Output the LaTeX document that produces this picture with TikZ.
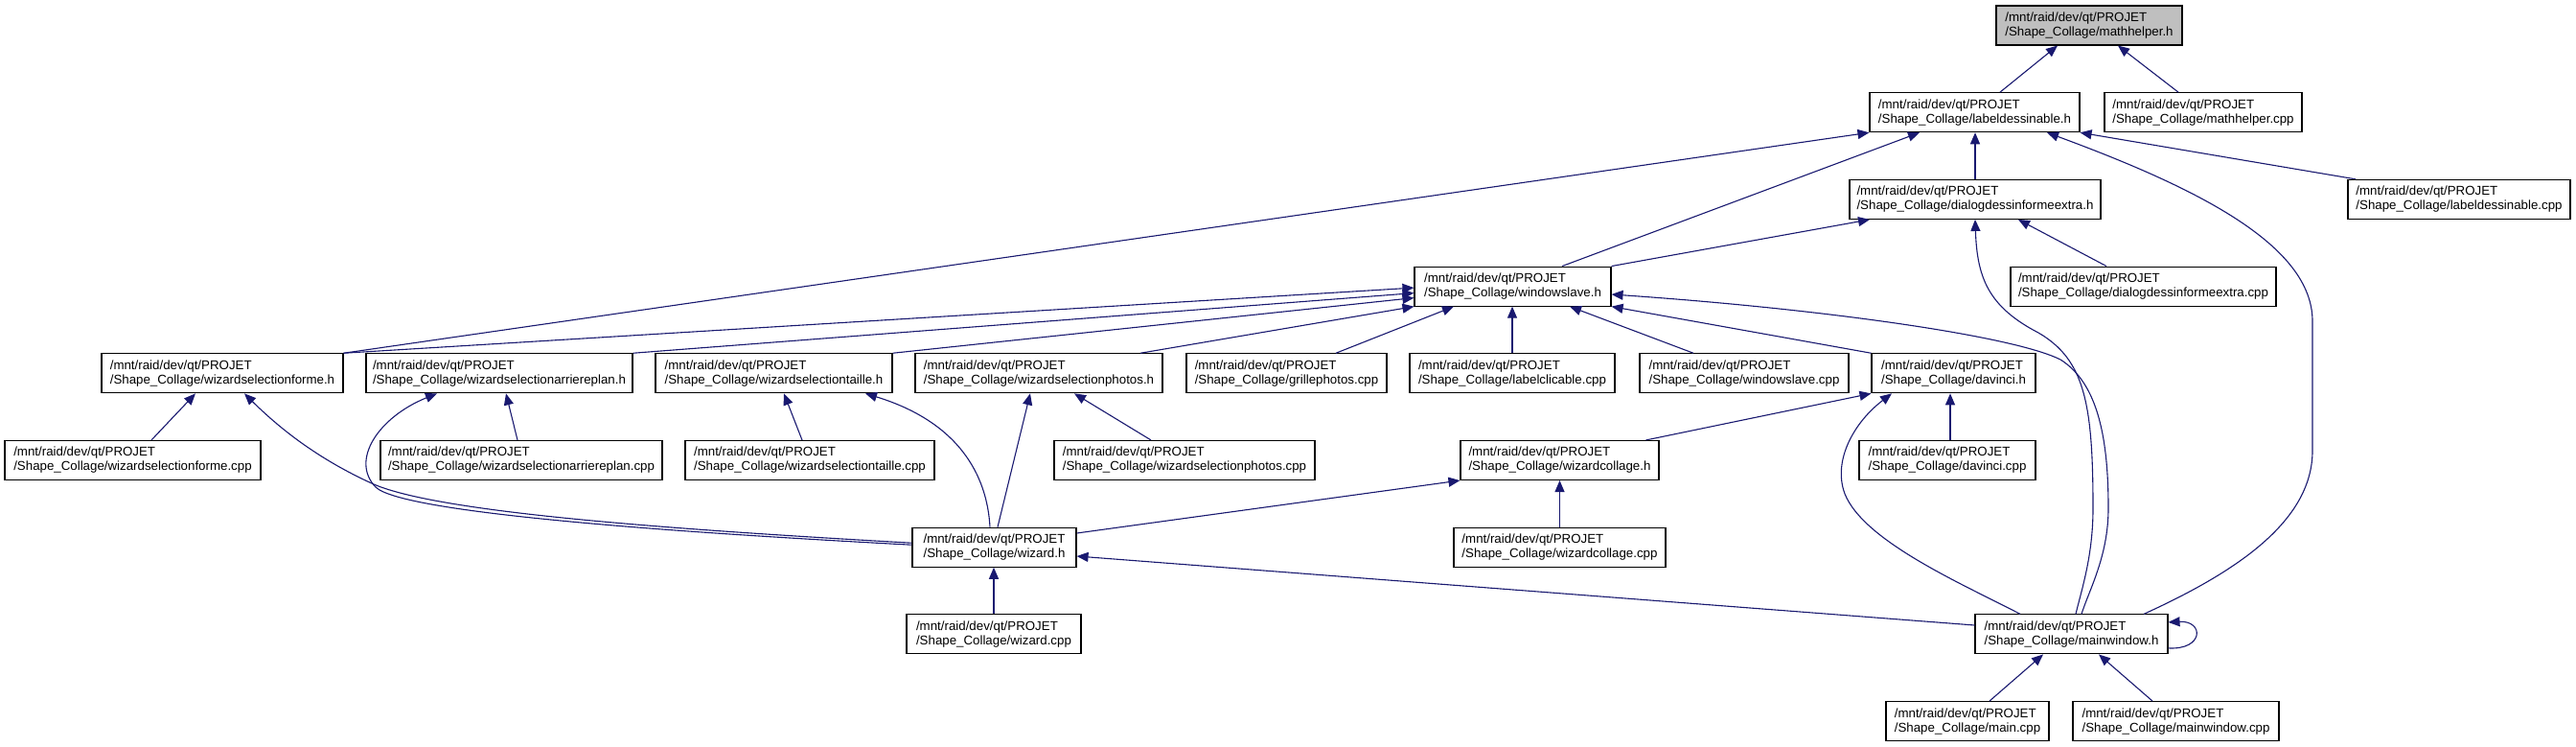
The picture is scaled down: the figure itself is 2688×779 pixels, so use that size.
\documentclass[tikz,border=0pt]{standalone}
\usepackage{fontspec}
\setmainfont{Liberation Sans}
\usetikzlibrary{arrows.meta}
\definecolor{edgecol}{HTML}{191970}
\definecolor{hilite}{HTML}{BFBFBF}
\newcommand{\nfont}{\fontsize{13.3}{15}\selectfont}
\tikzset{
  box/.style={draw=black, line width=1.1pt, fill=white, minimum height=41pt, inner sep=0pt, align=left, font=\nfont},
  edge/.style={draw=edgecol, line width=1.1pt, -{Triangle[length=12pt,width=10pt]}},
}
\begin{document}
\begin{tikzpicture}[x=1pt,y=-1pt]
\useasboundingbox (0,0) rectangle (2688,779);
\fill[white] (0,0) rectangle (2688,779);
% row 0
\node[box, fill=hilite, minimum width=194pt] (mh) at (2180,26.5) {/mnt/raid/dev/qt/PROJET\\/Shape\_Collage/mathhelper.h};
% row 1
\node[box, minimum width=219pt] (ld) at (2060.5,117.2) {/mnt/raid/dev/qt/PROJET\\/Shape\_Collage/labeldessinable.h};
\node[box, minimum width=206pt] (mhc) at (2299,117.2) {/mnt/raid/dev/qt/PROJET\\/Shape\_Collage/mathhelper.cpp};
% row 2
\node[box, minimum width=262pt] (dd) at (2061,207.9) {/mnt/raid/dev/qt/PROJET\\/Shape\_Collage/dialogdessinformeextra.h};
\node[box, minimum width=232pt] (ldc) at (2566,207.9) {/mnt/raid/dev/qt/PROJET\\/Shape\_Collage/labeldessinable.cpp};
% row 3
\node[box, minimum width=205pt] (ws) at (1578.5,298.6) {/mnt/raid/dev/qt/PROJET\\/Shape\_Collage/windowslave.h};
\node[box, minimum width=277pt] (ddc) at (2236.5,298.6) {/mnt/raid/dev/qt/PROJET\\/Shape\_Collage/dialogdessinformeextra.cpp};
% row 4
\node[box, minimum width=252pt] (wsf) at (232,389.3) {/mnt/raid/dev/qt/PROJET\\/Shape\_Collage/wizardselectionforme.h};
\node[box, minimum width=278pt] (wsa) at (521,389.3) {/mnt/raid/dev/qt/PROJET\\/Shape\_Collage/wizardselectionarriereplan.h};
\node[box, minimum width=247pt] (wst) at (807.5,389.3) {/mnt/raid/dev/qt/PROJET\\/Shape\_Collage/wizardselectiontaille.h};
\node[box, minimum width=258pt] (wsp) at (1084,389.3) {/mnt/raid/dev/qt/PROJET\\/Shape\_Collage/wizardselectionphotos.h};
\node[box, minimum width=209pt] (gp) at (1342.5,389.3) {/mnt/raid/dev/qt/PROJET\\/Shape\_Collage/grillephotos.cpp};
\node[box, minimum width=214pt] (lc) at (1578,389.3) {/mnt/raid/dev/qt/PROJET\\/Shape\_Collage/labelclicable.cpp};
\node[box, minimum width=218pt] (wsc) at (1820,389.3) {/mnt/raid/dev/qt/PROJET\\/Shape\_Collage/windowslave.cpp};
\node[box, minimum width=171pt] (dv) at (2038.5,389.3) {/mnt/raid/dev/qt/PROJET\\/Shape\_Collage/davinci.h};
% row 5
\node[box, minimum width=267pt] (wsfc) at (138.5,480) {/mnt/raid/dev/qt/PROJET\\/Shape\_Collage/wizardselectionforme.cpp};
\node[box, minimum width=294pt] (wsac) at (544,480) {/mnt/raid/dev/qt/PROJET\\/Shape\_Collage/wizardselectionarriereplan.cpp};
\node[box, minimum width=260pt] (wstc) at (845,480) {/mnt/raid/dev/qt/PROJET\\/Shape\_Collage/wizardselectiontaille.cpp};
\node[box, minimum width=272pt] (wspc) at (1236,480) {/mnt/raid/dev/qt/PROJET\\/Shape\_Collage/wizardselectionphotos.cpp};
\node[box, minimum width=207pt] (wc) at (1627.5,480) {/mnt/raid/dev/qt/PROJET\\/Shape\_Collage/wizardcollage.h};
\node[box, minimum width=184pt] (dvc) at (2032,480) {/mnt/raid/dev/qt/PROJET\\/Shape\_Collage/davinci.cpp};
% row 6
\node[box, minimum width=171pt] (wz) at (1037.5,570.7) {/mnt/raid/dev/qt/PROJET\\/Shape\_Collage/wizard.h};
\node[box, minimum width=221pt] (wcc) at (1627.5,570.7) {/mnt/raid/dev/qt/PROJET\\/Shape\_Collage/wizardcollage.cpp};
% row 7
\node[box, minimum width=182pt] (wzc) at (1037,661.4) {/mnt/raid/dev/qt/PROJET\\/Shape\_Collage/wizard.cpp};
\node[box, minimum width=201pt] (mw) at (2161.5,661.4) {/mnt/raid/dev/qt/PROJET\\/Shape\_Collage/mainwindow.h};
% row 8
\node[box, minimum width=170pt] (mc) at (2053,752.1) {/mnt/raid/dev/qt/PROJET\\/Shape\_Collage/main.cpp};
\node[box, minimum width=215pt] (mwc) at (2270.5,752.1) {/mnt/raid/dev/qt/PROJET\\/Shape\_Collage/mainwindow.cpp};

% edges
\draw[edge] ([xshift=26.5pt]ld.north) -- ([xshift=-33pt]mh.south);
\draw[edge] ([xshift=-26pt]mhc.north) -- ([xshift=30pt]mh.south);
\draw[edge] (dd.north) -- (dd.north |- ld.south);
\draw[edge] ([xshift=-108pt]ldc.north) -- (ld.south east);
\draw[edge] ([xshift=51.5pt]ws.north) -- ([xshift=-57.5pt]ld.south);
\draw[edge] (wsf.north east) -- (ld.south west);
\draw[edge] ([xshift=75.5pt]mw.north) .. controls (2330,598) and (2413,545) .. (2413,470) -- (2413,335) .. controls (2413,255) and (2290,195) .. ([xshift=75.5pt]ld.south);
\draw[edge] (ws.north east) -- ([xshift=-110pt]dd.south);
\draw[edge] ([xshift=-38.5pt]ddc.north) -- ([xshift=45pt]dd.south);
\draw[edge] ([xshift=4.5pt]mw.north) .. controls (2172,615) and (2184,580) .. (2184,530) .. controls (2184,420) and (2175,375) .. (2127,347) .. controls (2075,320) and (2063,290) .. (dd.south);
\draw[edge] (wsf.north east) -- ([yshift=-1.5pt]ws.west);
\draw[edge] (wsa.north east) -- ([yshift=-7pt]ws.west);
\draw[edge] (wst.north east) -- ([yshift=-12pt]ws.west);
\draw[edge] ([xshift=106pt]wsp.north) -- (ws.south west);
\draw[edge] ([xshift=51.5pt]gp.north) -- ([xshift=-61.5pt]ws.south);
\draw[edge] (lc.north) -- (lc.north |- ws.south);
\draw[edge] ([xshift=-53pt]wsc.north) -- ([xshift=59.5pt]ws.south);
\draw[edge] (dv.north west) -- (ws.south east);
\draw[edge] ([xshift=10.5pt]mw.north) .. controls (2180,615) and (2200,580) .. (2200,530) .. controls (2200,460) and (2190,400) .. (2150,375) .. controls (2100,350) and (1900,322) .. ([yshift=-8.4pt]ws.east);
\draw[edge] ([xshift=19.5pt]wsfc.north) -- ([xshift=-28pt]wsf.south);
\draw[edge] ([xshift=-4pt]wsac.north) -- ([xshift=7pt]wsa.south);
\draw[edge] ([xshift=-8pt]wstc.north) -- ([xshift=10.5pt]wst.south);
\draw[edge] ([xshift=-35pt]wspc.north) -- ([xshift=37pt]wsp.south);
\draw[edge] ([yshift=4.5pt]wz.west) .. controls (700,552) and (460,535) .. (390,505) .. controls (330,478) and (290,445) .. ([xshift=23pt]wsf.south);
\draw[edge] ([yshift=2.5pt]wz.west) .. controls (700,555) and (420,535) .. (392,508) .. controls (365,480) and (395,435) .. ([xshift=-65pt]wsa.south);
\draw[edge] ([xshift=-4.5pt]wz.north) .. controls (1030,495) and (1000,440) .. ([xshift=95.5pt]wst.south);
\draw[edge] ([xshift=3.5pt]wz.north) -- ([xshift=-9pt]wsp.south);
\draw[edge] ([xshift=90pt]wc.north) -- (dv.south west);
\draw[edge] ([xshift=3pt]dvc.north) -- ([xshift=-3.5pt]dv.south);
\draw[edge] ([xshift=-53.5pt]mw.north) .. controls (2050,610) and (1945,565) .. (1925,515) .. controls (1912,480) and (1935,440) .. ([xshift=-64.5pt]dv.south);
\draw[edge] (wcc.north) -- (wcc.north |- wc.south);
\draw[edge] ([yshift=14.7pt]wz.east) -- (wc.south west);
\draw[edge] (wzc.north) -- (wzc.north |- wz.south);
\draw[edge] ([yshift=9.4pt]mw.west) -- ([yshift=-9.3pt]wz.east);
\draw[edge] ([yshift=-14.5pt]mw.east) .. controls (2300,678) and (2300,647) .. ([yshift=12.5pt]mw.east);
\draw[edge] ([xshift=23pt]mc.north) -- ([xshift=-29.5pt]mw.south);
\draw[edge] ([xshift=-24.5pt]mwc.north) -- ([xshift=28.5pt]mw.south);
\end{tikzpicture}
\end{document}
